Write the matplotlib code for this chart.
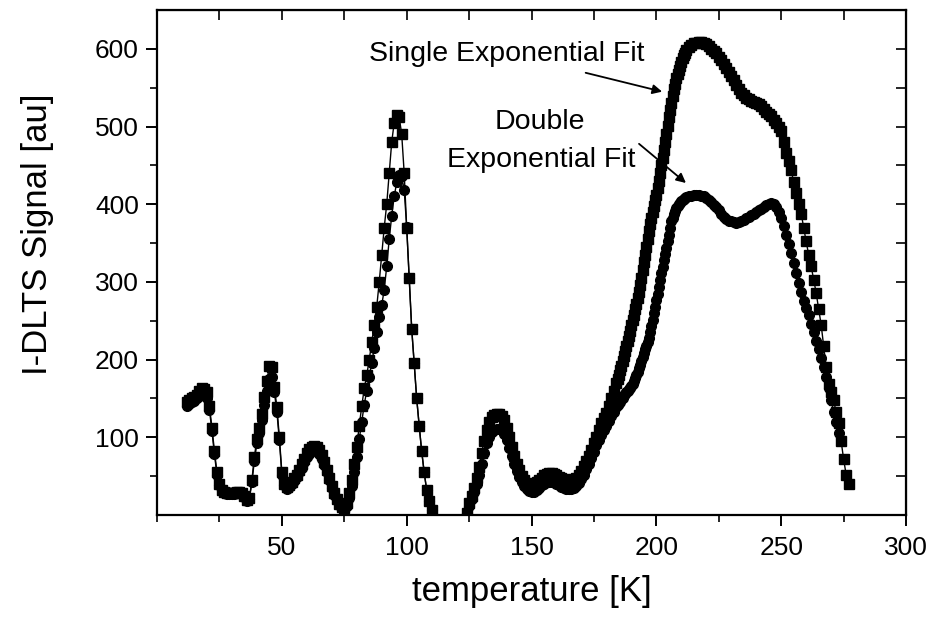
import numpy as np
import matplotlib.pyplot as plt

plt.rcParams['font.family'] = ['Liberation Sans', 'DejaVu Sans']

# low temperature part (12 - 110 K)
temp_a = [12, 13, 14, 15, 16, 17, 18, 19, 20, 21, 22, 23, 24, 25, 26, 27, 28, 29, 30, 31,
          32, 33, 34, 35, 36, 37, 38, 39, 40, 41, 42, 43, 44, 45, 46, 47, 48, 49, 50, 51,
          52, 53, 54, 55, 56, 57, 58, 59, 60, 61, 62, 63, 64, 65, 66, 67, 68, 69, 70, 71,
          72, 73, 74, 75, 76, 77, 78, 79, 80, 81, 82, 83, 84, 85, 86, 87, 88, 89, 90, 91,
          92, 93, 94, 95, 96, 97, 98, 99, 100, 101, 102, 103, 104, 105, 106, 107, 108, 109, 110]
single_a = [145, 148, 150, 152, 155, 160, 163, 162, 158, 140, 112, 82, 55, 40, 32, 29, 28, 28, 28, 28,
            29, 29, 28, 24, 19, 22, 45, 75, 98, 112, 130, 152, 172, 192, 190, 165, 139, 100, 55, 40,
            36, 38, 42, 47, 52, 58, 65, 72, 80, 85, 88, 89, 88, 84, 77, 68, 58, 48, 37, 28,
            20, 14, 10, 9, 15, 28, 45, 65, 88, 115, 140, 163, 180, 200, 222, 245, 268, 300, 335, 370,
            400, 440, 480, 505, 515, 512, 490, 440, 370, 305, 240, 195, 150, 115, 82, 55, 32, 18, 6]
double_a = [140, 143, 145, 147, 150, 153, 155, 155, 150, 135, 108, 78, 52, 38, 31, 28, 27, 27, 27, 27,
            28, 28, 27, 23, 18, 21, 42, 70, 92, 106, 122, 142, 160, 175, 178, 158, 133, 96, 52, 38,
            34, 36, 40, 44, 49, 55, 61, 68, 74, 79, 82, 83, 82, 78, 72, 64, 55, 45, 35, 26,
            19, 13, 9, 8, 12, 22, 37, 55, 75, 98, 120, 142, 160, 178, 196, 215, 235, 255, 270, 290,
            320, 355, 385, 410, 428, 438, 436, 418, 371, 305, 240, 195, 150, 115, 82, 55, 32, 18, 6]

# 124 - 183 K
temp_b = [124, 125, 126, 127, 128, 129, 130, 131, 132, 133, 134, 135, 136, 137, 138, 139, 140, 141,
          142, 143, 144, 145, 146, 147, 148, 149, 150, 151, 152, 153, 154, 155, 156, 157, 158, 159,
          160, 161, 162, 163, 164, 165, 166, 167, 168, 169, 170, 171, 172, 173, 174, 175, 176, 177,
          178, 179, 180, 181, 182, 183]
single_b = [3, 15, 25, 35, 48, 62, 80, 95, 110, 120, 126, 129, 130, 130, 128, 122, 112, 100,
            88, 76, 66, 58, 50, 45, 41, 39, 39, 40, 42, 45, 48, 51, 53, 54, 54, 53,
            51, 49, 47, 46, 45, 45, 45, 46, 48, 52, 57, 63, 70, 76, 83, 92, 101, 110,
            118, 125, 131, 140, 150, 160]
double_b = [2, 12, 21, 30, 40, 52, 66, 80, 92, 101, 107, 110, 111, 111, 109, 104, 96, 86,
            76, 66, 57, 49, 42, 37, 33, 31, 29, 30, 32, 35, 38, 40, 42, 43, 43, 42,
            40, 38, 36, 35, 34, 34, 34, 35, 37, 41, 46, 52, 59, 66, 73, 81, 90, 97,
            103, 109, 115, 121, 127, 133]

# steep rise 184 - 212 K, read every half kelvin
temp_c = [184, 184.5, 185, 185.5, 186, 186.5, 187, 187.5, 188, 188.5, 189, 189.5, 190, 190.5,
          191, 191.5, 192, 192.5, 193, 193.5, 194, 194.5, 195, 195.5, 196, 196.5, 197, 197.5,
          198, 198.5, 199, 199.5, 200, 200.5, 201, 201.5, 202, 202.5, 203, 203.5, 204, 204.5,
          205, 205.5, 206, 206.5, 207, 207.5, 208, 208.5, 209, 209.5, 210, 210.5, 211, 211.5, 212]
single_c = [170, 175, 180, 186, 192, 198, 205, 211, 218, 224, 230, 237, 244, 251,
            258, 265, 272, 279, 287, 296, 305, 315, 325, 335, 345, 355, 365, 374,
            382, 390, 398, 405, 412, 421, 430, 440, 450, 460, 470, 480, 490, 501,
            512, 521, 530, 539, 548, 555, 562, 568, 573, 578, 583, 588, 592, 595, 598]
double_c = [139, 141, 144, 146, 149, 151, 154, 156, 158, 160, 162, 164, 166, 169,
            172, 176, 180, 184, 189, 193, 198, 203, 208, 213, 218, 223, 228, 235,
            243, 251, 260, 268, 277, 285, 293, 302, 311, 319, 328, 336, 344, 352,
            360, 369, 378, 382, 387, 391, 395, 398, 400, 402, 404, 406, 407, 408, 409]

# 213 - 277 K
temp_d = [213, 214, 215, 216, 217, 218, 219, 220, 221, 222, 223, 224, 225, 226, 227, 228, 229, 230,
          231, 232, 233, 234, 235, 236, 237, 238, 239, 240, 241, 242, 243, 244, 245, 246, 247, 248,
          249, 250, 251, 252, 253, 254, 255, 256, 257, 258, 259, 260, 261, 262, 263, 264, 265, 266,
          267, 268, 269, 270, 271, 272, 273, 274, 275, 276, 277]
single_d = [602, 605, 607, 608, 609, 609, 608, 606, 603, 600, 597, 594, 590, 585, 580, 575, 570, 565,
            560, 553, 548, 543, 540, 537, 535, 533, 531, 530, 529, 526, 522, 519, 516, 513, 509, 504,
            499, 494, 480, 466, 455, 444, 428, 415, 400, 388, 370, 352, 335, 320, 303, 286, 265, 245,
            218, 190, 168, 158, 148, 132, 118, 95, 72, 52, 40]
double_d = [410, 411, 412, 412, 412, 411, 410, 408, 406, 403, 399, 396, 392, 388, 384, 381, 379, 378,
            377, 376, 377, 378, 380, 382, 384, 386, 388, 390, 392, 394, 397, 399, 400, 401, 400, 396,
            390, 382, 372, 361, 349, 337, 324, 312, 299, 287, 276, 266, 257, 246, 235, 224, 213, 202,
            190, 178, 163, 148, 133, 120, 106, np.nan, np.nan, np.nan, np.nan]

temp = temp_a + [np.nan] + temp_b + temp_c + temp_d
single = single_a + [np.nan] + single_b + single_c + single_d
double = double_a + [np.nan] + double_b + double_c + double_d

fig = plt.figure(figsize=(9.33, 6.23), dpi=100)
ax = fig.add_axes([0.1683, 0.1734, 0.8028, 0.8106])

ax.plot(temp, single, color='black', lw=1.0, marker='s', ms=6.5, mec='black', mfc='black')
ax.plot(temp, double, color='black', lw=1.0, marker='o', ms=7, mec='black', mfc='black')

ax.set_xlim(0, 300)
ax.set_ylim(0, 650)
ax.set_xticks([50, 100, 150, 200, 250, 300])
ax.set_xticks([0, 25, 75, 125, 175, 225, 275], minor=True)
ax.set_yticks([100, 200, 300, 400, 500, 600])
ax.set_yticks([50, 150, 250, 350, 450, 550], minor=True)
ax.tick_params(which='major', direction='out', length=8, width=1.4, labelsize=19, pad=5)
ax.tick_params(axis='x', which='major', pad=7)
ax.tick_params(which='minor', direction='out', length=5, width=1.2)
for sp in ax.spines.values():
    sp.set_linewidth(1.6)

# mirrored ticks on top and right, pointing in
top = ax.secondary_xaxis('top')
top.set_xticks([50, 100, 150, 200, 250, 300])
top.set_xticks([0, 25, 75, 125, 175, 225, 275], minor=True)
top.tick_params(which='both', direction='in', length=7, width=1.2, labeltop=False)
right = ax.secondary_yaxis('right')
right.set_yticks([100, 200, 300, 400, 500, 600])
right.set_yticks([50, 150, 250, 350, 450, 550], minor=True)
right.tick_params(which='both', direction='in', length=7, width=1.2, labelright=False)

ax.set_xlabel('temperature [K]', fontsize=25)
ax.set_ylabel('I-DLTS Signal [au]', fontsize=25)
ax.xaxis.set_label_coords(0.5, -0.118)
ax.yaxis.set_label_coords(-0.137, 0.555)

ax.text(140, 593, 'Single Exponential Fit', fontsize=20.5, ha='center', va='center')
ax.text(153.5, 506, 'Double', fontsize=20.5, ha='center', va='center')
ax.text(153.8, 457, 'Exponential Fit', fontsize=20.5, ha='center', va='center')
ax.annotate('', xy=(203.4, 544), xytext=(170.6, 570),
            arrowprops=dict(arrowstyle='-|>', color='black', lw=1.3, mutation_scale=14))
ax.annotate('', xy=(212.7, 425), xytext=(192.2, 480),
            arrowprops=dict(arrowstyle='-|>', color='black', lw=1.3, mutation_scale=14))

fig.savefig('out.png', dpi=100)
